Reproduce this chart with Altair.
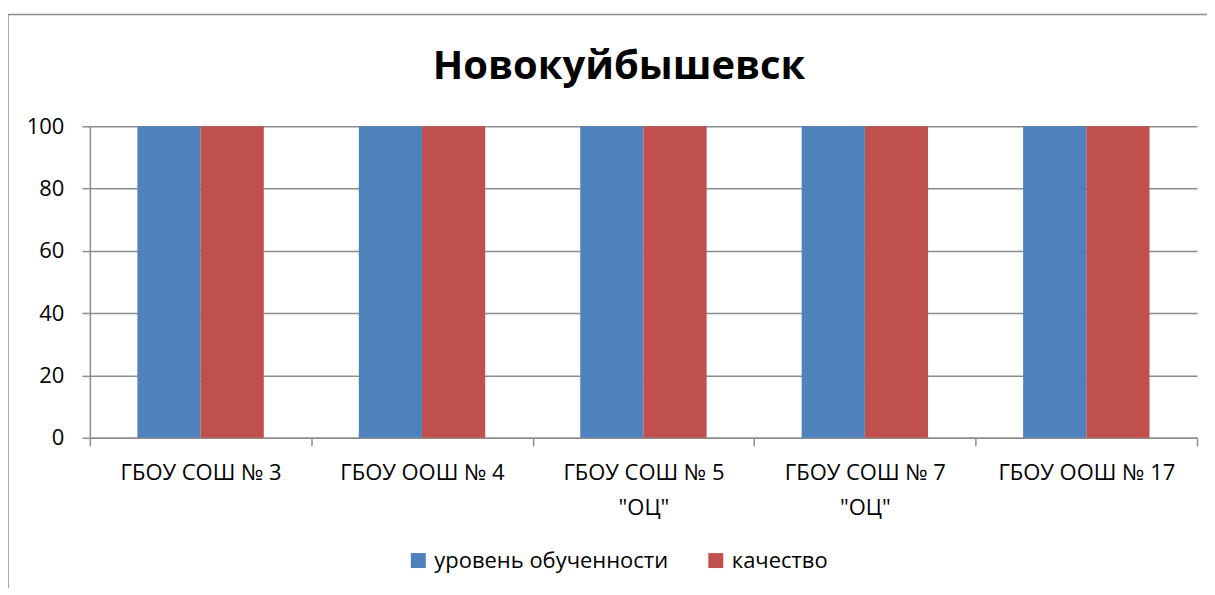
import altair as alt
import pandas as pd

categories = ["ГБОУ СОШ № 3", "ГБОУ ООШ № 4", "ГБОУ СОШ № 5\n\"ОЦ\"", "ГБОУ СОШ № 7\n\"ОЦ\"", "ГБОУ ООШ № 17"]
series_names = ["уровень обученности", "качество"]
level_values = [100, 100, 100, 100, 100]
quality_values = [100, 100, 100, 100, 100]
colors = ["#4F81BD", "#C0504D"]
title_text = "Новокуйбышевск"

rows = []
for c, a, b in zip(categories, level_values, quality_values):
    rows.append({"school": c, "series": series_names[0], "value": a})
    rows.append({"school": c, "series": series_names[1], "value": b})
df = pd.DataFrame(rows)

FONT = "Open Sans"
GRAY = "#8C8C8C"
W, H = 1109, 312

bars = alt.Chart(df).mark_bar().encode(
    x=alt.X("school:N", sort=categories, title=None,
            scale=alt.Scale(paddingInner=0, paddingOuter=0),
            axis=alt.Axis(tickBand="extent", labelExpr="split(datum.label, '\\n')",
                          labelAngle=0, labelFont=FONT, labelFontSize=22, labelColor="#000000",
                          labelLineHeight=35, labelPadding=17, tickSize=8, tickColor=GRAY,
                          domainColor=GRAY, domainWidth=1.5, tickWidth=1.5, grid=False,
                          labelBaseline="top", labelLimit=0)),
    xOffset=alt.XOffset("series:N", sort=series_names,
                        scale=alt.Scale(paddingInner=0, paddingOuter=0.752)),
    y=alt.Y("value:Q", title=None, scale=alt.Scale(domain=[0, 100], nice=False),
            axis=alt.Axis(values=[0, 20, 40, 60, 80, 100], labelFont=FONT, labelFontSize=22,
                          labelColor="#000000", labelPadding=18, tickSize=8, tickColor=GRAY,
                          tickWidth=1.5, domainColor=GRAY, domainWidth=1.5, grid=True,
                          gridColor=GRAY, gridWidth=1.5)),
    color=alt.Color("series:N", sort=series_names,
                    scale=alt.Scale(domain=series_names, range=colors),
                    legend=alt.Legend(title=None, orient="none", direction="horizontal",
                                      legendX=318, legendY=424, symbolType="square",
                                      symbolSize=225, symbolStrokeWidth=0, labelFont=FONT,
                                      labelFontSize=22, labelColor="#000000", labelLimit=0,
                                      columnPadding=36, labelOffset=5, symbolOpacity=1)),
)

border = alt.Chart(pd.DataFrame({"a": [0]})).mark_rect(
    fill=None, stroke=GRAY, strokeWidth=1.5, clip=False
).encode(x=alt.value(-82), x2=alt.value(1300), y=alt.value(-112), y2=alt.value(700))

title = alt.Chart(pd.DataFrame({"t": [title_text]})).mark_text(
    font=FONT, fontSize=40, fontWeight="bold", color="#000000",
    align="center", baseline="alphabetic"
).encode(text="t:N", x=alt.value(530), y=alt.value(-47))

chart = alt.layer(border, bars, title).properties(
    width=W, height=H,
    padding={"left": 82, "top": 118, "right": 10, "bottom": 150},
    autosize=alt.AutoSizeParams(type="none"),
).configure_view(stroke=None)

chart.save("out.html", embed_options={"renderer": "svg", "actions": False})
